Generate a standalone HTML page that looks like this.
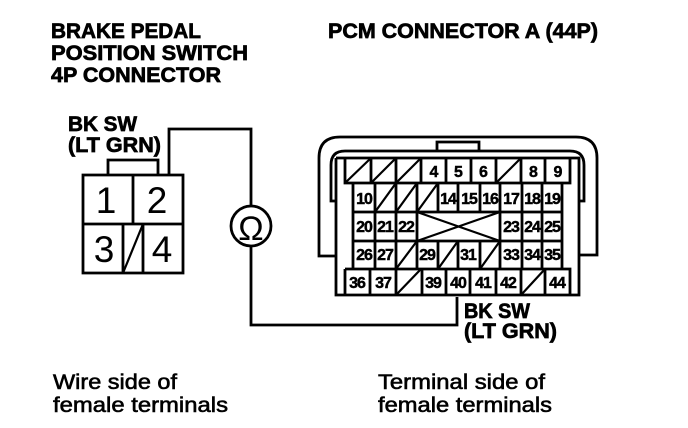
<!DOCTYPE html>
<html><head><meta charset="utf-8"><style>
html,body{margin:0;padding:0;background:#fff;width:688px;height:428px;overflow:hidden}
svg{display:block}
text{font-family:"Liberation Sans",sans-serif;fill:#000}
.t{font-weight:bold;font-size:21px;stroke:#000;stroke-width:.7px}
.r{font-size:21px;stroke:#000;stroke-width:.6px}
.n{font-weight:bold;font-size:16px;text-anchor:middle;letter-spacing:-1px;stroke:#000;stroke-width:.45px}
.d{font-size:37px;text-anchor:middle}
</style></head><body>
<svg width="688" height="428" viewBox="0 0 688 428" xmlns="http://www.w3.org/2000/svg">
<text class="t" x="51" y="38" textLength="150" lengthAdjust="spacingAndGlyphs">BRAKE PEDAL</text>
<text class="t" x="51" y="60" textLength="197" lengthAdjust="spacingAndGlyphs">POSITION SWITCH</text>
<text class="t" x="51" y="82" textLength="170" lengthAdjust="spacingAndGlyphs">4P CONNECTOR</text>
<text class="t" x="328" y="38" textLength="270" lengthAdjust="spacingAndGlyphs">PCM CONNECTOR A (44P)</text>
<text class="t" x="68" y="131" textLength="69" lengthAdjust="spacingAndGlyphs">BK SW</text>
<text class="t" x="68" y="152" textLength="93" lengthAdjust="spacingAndGlyphs">(LT GRN)</text>
<text class="t" x="464" y="318" textLength="66" lengthAdjust="spacingAndGlyphs">BK SW</text>
<text class="t" x="464" y="338" textLength="93" lengthAdjust="spacingAndGlyphs">(LT GRN)</text>
<text class="r" x="53" y="389" textLength="124" lengthAdjust="spacingAndGlyphs">Wire side of</text>
<text class="r" x="53" y="412" textLength="175" lengthAdjust="spacingAndGlyphs">female terminals</text>
<text class="r" x="378" y="389" textLength="167" lengthAdjust="spacingAndGlyphs">Terminal side of</text>
<text class="r" x="378" y="412" textLength="174" lengthAdjust="spacingAndGlyphs">female terminals</text>

<g fill="none" stroke="#000" stroke-width="2.8">
<path d="M83 175H183V273H83Z M83 224H183 M133 175V224 M123 224V273 M143 224V273"/>
<path d="M108 175V160H158V175"/>
<path d="M169 175V129H251V206 M251 246V325H457V297"/>
<circle cx="251" cy="226" r="20"/>
<path d="M336 256H319V158Q319 137 340 137H576Q597 137 597 158V255H579"/>
<path d="M336 201H331V165Q331 151 345 151H570Q584 151 584 165V201H579"/>
<path d="M437 151V142H479V151"/>
<path d="M336 158V295H579V158H336"/>
<path d="M345 158V183H570V158 M371 158V183 M396 158V183 M421 158V183 M446 158V183 M471 158V183 M496 158V183 M521 158V183 M545 158V183"/>
<path d="M353 183V269 M375 183V241 M396 183V269 M417 183V269 M438 183V212 M458 183V212 M480 183V212 M500 183V269 M522 183V269 M542 183V269 M562 183V269"/>
<path d="M375 241V269 M438 241V269 M458 241V269 M480 241V269"/>
<path d="M353 212H562 M353 241H562"/>
<path d="M345 269H570V295 M345 269V295 M370 269V295 M396 269V295 M422 269V295 M446 269V295 M470 269V295 M496 269V295 M521 269V295 M545 269V295"/>
</g>
<g fill="none" stroke="#000" stroke-width="2.2">
<path d="M123 273L143 224"/>
<path d="M345 183L371 158 M371 183L396 158 M396 183L421 158 M496 183L521 158"/>
<path d="M375 212L396 183 M396 212L417 183 M417 212L438 183"/>
<path d="M417 212L500 241 M417 241L500 212"/>
<path d="M396 269L417 241 M438 269L458 241 M480 269L500 241"/>
<path d="M396 295L421 269 M521 295L545 269"/>
</g>
<text class="d" x="106" y="213">1</text>
<text class="d" x="157" y="213">2</text>
<text class="d" x="104" y="262">3</text>
<text class="d" x="162" y="262">4</text>
<text x="251" y="240" style="font-size:34px;text-anchor:middle">Ω</text>

<text class="n" x="433.5" y="177">4</text><text class="n" x="458" y="177">5</text><text class="n" x="483" y="177">6</text><text class="n" x="533" y="177">8</text><text class="n" x="557.5" y="177">9</text>
<text class="n" x="364" y="204">10</text><text class="n" x="448" y="204">14</text><text class="n" x="469" y="204">15</text><text class="n" x="490" y="204">16</text><text class="n" x="511" y="204">17</text><text class="n" x="532" y="204">18</text><text class="n" x="552" y="204">19</text>
<text class="n" x="364" y="232">20</text><text class="n" x="385" y="232">21</text><text class="n" x="406" y="232">22</text><text class="n" x="511" y="232">23</text><text class="n" x="532" y="232">24</text><text class="n" x="552" y="232">25</text>
<text class="n" x="364" y="260">26</text><text class="n" x="385" y="260">27</text><text class="n" x="427" y="260">29</text><text class="n" x="468" y="260">31</text><text class="n" x="511" y="260">33</text><text class="n" x="532" y="260">34</text><text class="n" x="552" y="260">35</text>
<text class="n" x="357" y="288">36</text><text class="n" x="383" y="288">37</text><text class="n" x="433" y="288">39</text><text class="n" x="458" y="288">40</text><text class="n" x="483" y="288">41</text><text class="n" x="508" y="288">42</text><text class="n" x="557" y="288">44</text>
</svg>
</body></html>
